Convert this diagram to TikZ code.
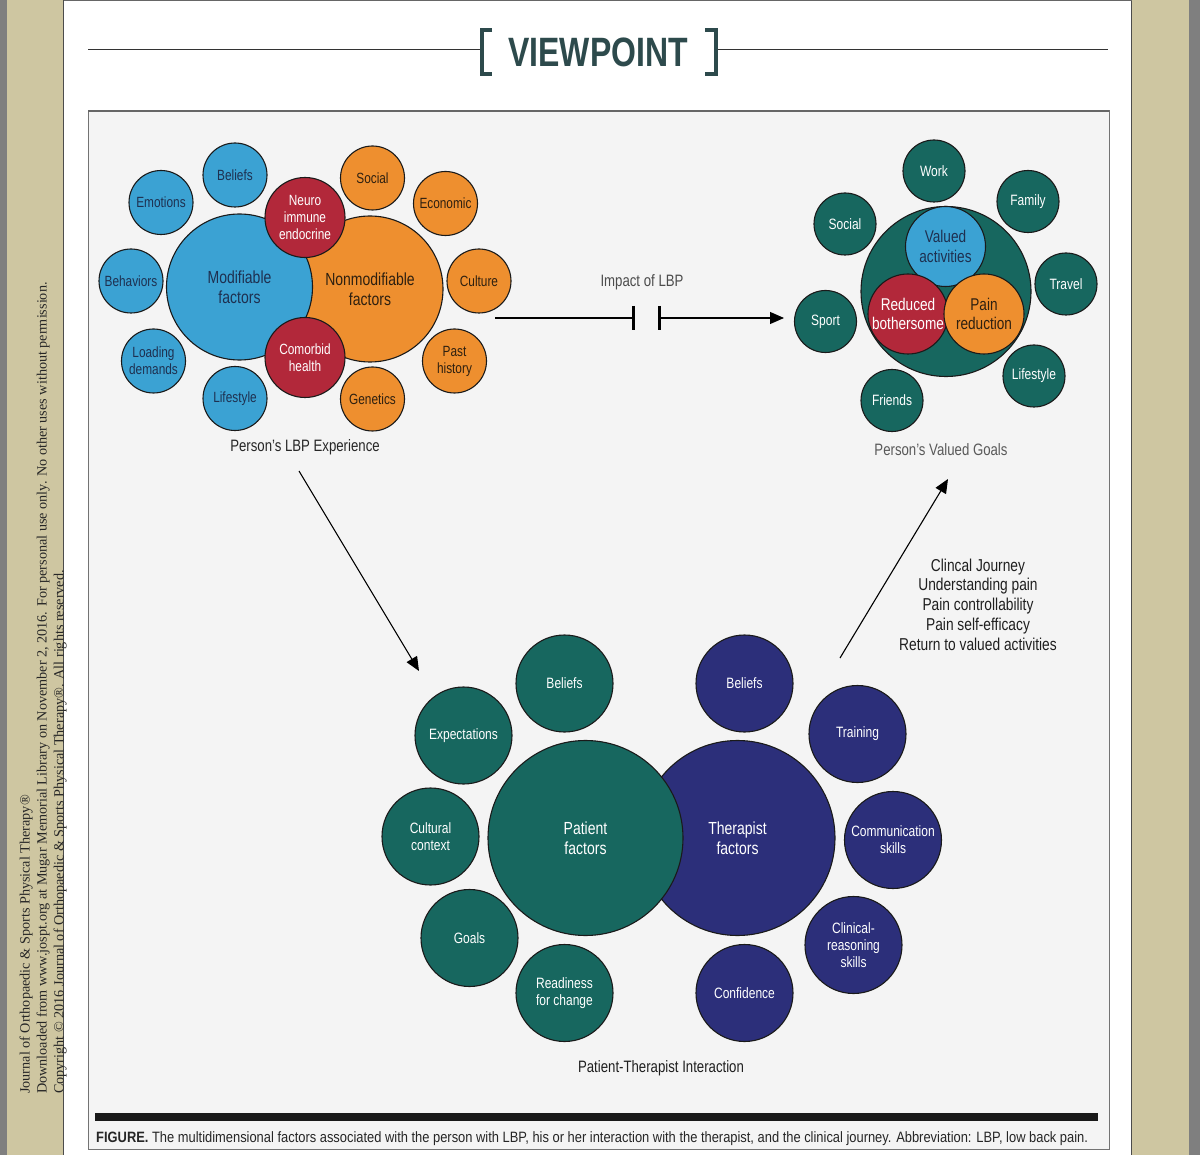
\documentclass[tikz,border=0pt]{standalone}
\usepackage{fontspec}
\setmainfont{Liberation Sans}
\newfontfamily\cf{Liberation Sans}[FakeStretch=0.8]
\newfontfamily\capf{Liberation Sans}[FakeStretch=0.86]
\newfontfamily\vpf{Liberation Sans}[FakeStretch=0.78]
\newfontfamily\sidef{Liberation Serif}
\usetikzlibrary{arrows.meta}
\definecolor{bgtan}{HTML}{CEC6A1}
\definecolor{sidegrey}{HTML}{7F7F7F}
\definecolor{panel}{HTML}{F4F4F4}
\definecolor{cblue}{HTML}{3BA2D3}
\definecolor{corange}{HTML}{EE8F2F}
\definecolor{cred}{HTML}{B2283A}
\definecolor{cteal}{HTML}{17675F}
\definecolor{cnavy}{HTML}{2C2F7A}
\definecolor{vpcol}{HTML}{2D4A4C}
\definecolor{darktxt}{HTML}{1E3050}
\definecolor{browntxt}{HTML}{2E2010}
\definecolor{outl}{HTML}{1A1A1A}
\tikzset{
  bub/.style={circle, draw=outl, line width=1.1pt, inner sep=0pt, align=center},
  smallbub/.style={minimum size=64pt, font=\cf\fontsize{14.8}{17}\selectfont},
  redbub/.style={minimum size=80pt, fill=cred, text=white, font=\cf\fontsize{14.8}{17}\selectfont},
  bigbub/.style={minimum size=146pt, font=\cf\fontsize{17.5}{20}\selectfont},
  tealsm/.style={minimum size=62pt, fill=cteal, text=white, font=\cf\fontsize{15}{17}\selectfont},
  midbub/.style={minimum size=80pt, font=\cf\fontsize{17}{19.5}\selectfont},
  botsm/.style={minimum size=97pt, font=\cf\fontsize{15}{17}\selectfont},
  botbig/.style={minimum size=195pt, font=\cf\fontsize{17.5}{20}\selectfont},
  bluef/.style={fill=cblue, text=darktxt},
  orangef/.style={fill=corange, text=browntxt},
  tealf/.style={fill=cteal, text=white},
  navyf/.style={fill=cnavy, text=white},
  lbl/.style={font=\cf\fontsize{16.5}{19.7}\selectfont, align=center, inner sep=0pt},
  arr/.style={line width=1.1pt, -{Triangle[length=14pt,width=12pt]}},
  barline/.style={line width=3pt},
}
\begin{document}
\begin{tikzpicture}[x=1pt,y=-1pt]
\useasboundingbox (0,0) rectangle (1200,1155);
% page background
\fill[sidegrey] (0,0) rectangle (1200,1155);
\fill[bgtan] (7,0) rectangle (1189,1155);
\fill[white] (63.5,0) rectangle (1131.5,1155);
\draw[line width=1pt, black!70] (63.5,0) -- (63.5,1155);
\draw[line width=1pt, black!70] (1131.5,0) -- (1131.5,1155);
\draw[line width=1.2pt, black!60] (63.5,0.6) -- (1131.5,0.6);
% side text
\node[rotate=90, anchor=north west, inner sep=0pt, align=left, text=black!85,
  font=\sidef\fontsize{14.2}{17}\selectfont] (side) at (19.5,1094)
 {Journal of Orthopaedic \& Sports Physical Therapy\textregistered\\
  Downloaded from www.jospt.org at Mugar Memorial Library on November 2, 2016. For personal use only. No other uses without permission.\\
  Copyright \textcopyright\ 2016 Journal of Orthopaedic \& Sports Physical Therapy\textregistered. All rights reserved.};
% header
\node[font=\vpf\bfseries\fontsize{41}{41}\selectfont, text=vpcol, inner sep=0pt] (vp) at (598,52.5) {VIEWPOINT};
\draw[line width=1.5pt, black!80] (88,49.5) -- (480,49.5);
\draw[line width=1.5pt, black!80] (716,49.5) -- (1108,49.5);
\draw[vpcol, line width=4pt] (492,30) -- (481.5,30) -- (481.5,74) -- (492,74);
\draw[vpcol, line width=4pt] (705,30) -- (715.5,30) -- (715.5,74) -- (705,74);
% panel
\fill[panel] (88,111) rectangle (1109,1149);
\draw[line width=1pt, black!55] (88,111) rectangle (1109,1149);
\draw[line width=2pt, black!60] (88,111) -- (1109,111);
\fill[black!90] (95,1113) rectangle (1098,1121);
\node[anchor=base west, inner sep=0pt, text=black!85, font=\capf\fontsize{15}{17}\selectfont] (cap) at (96,1142)
 {\bfseries FIGURE.\mdseries{} The multidimensional factors associated with the person with LBP, his or her interaction with the therapist, and the clinical journey. Abbreviation: LBP, low back pain.};

% ---------- left cluster
\node[bub, bigbub, orangef] (nonmod) at (370,289) {Nonmodifiable\\factors};
\node[bub, bigbub, bluef] (mod) at (239.5,287) {Modifiable\\factors};
\node[bub, redbub] (neuro) at (305,217.5) {Neuro\\immune\\endocrine};
\node[bub, redbub] (comorb) at (305,357.5) {Comorbid\\health};
\node[bub, smallbub, bluef] (lbel) at (235,175) {Beliefs};
\node[bub, smallbub, bluef] (lemo) at (161,202.5) {Emotions};
\node[bub, smallbub, bluef] (lbeh) at (131,281) {Behaviors};
\node[bub, smallbub, bluef] (lload) at (153.5,361) {Loading\\demands};
\node[bub, smallbub, bluef] (llife) at (235,398.5) {Lifestyle};
\node[bub, smallbub, orangef] (lsoc) at (372.5,178) {Social};
\node[bub, smallbub, orangef] (leco) at (445.5,203.5) {Economic};
\node[bub, smallbub, orangef] (lcul) at (479,281) {Culture};
\node[bub, smallbub, orangef] (lpast) at (454.5,361) {Past\\history};
\node[bub, smallbub, orangef] (lgen) at (372.5,399) {Genetics};
\node[lbl, text=black!85] (lblL) at (305,447) {Person’s LBP Experience};

% ---------- right cluster
\node[bub, minimum size=170pt, fill=cteal] (goals) at (946,291.5) {};
\node[bub, midbub, bluef] (valued) at (945.5,246.5) {Valued\\activities};
\node[bub, midbub, fill=cred, text=white] (reduced) at (908,314) {};
\node[bub, midbub, orangef] (painred) at (984,314) {Pain\\reduction};
\node[midbub, text=white, align=center, inner sep=0pt] (reducedtxt) at (908,314) {Reduced\\bothersome};
\node[bub, tealsm] (rwork) at (934,171) {Work};
\node[bub, tealsm] (rfam) at (1028,201.5) {Family};
\node[bub, tealsm] (rsoc) at (845,224) {Social};
\node[bub, tealsm] (rtrav) at (1066,284) {Travel};
\node[bub, tealsm] (rsport) at (825.5,321.5) {Sport};
\node[bub, tealsm] (rlife) at (1034,376) {Lifestyle};
\node[bub, tealsm] (rfri) at (892,400.5) {Friends};
\node[lbl, text=black!65] (lblR) at (941,450) {Person’s Valued Goals};

% impact arrow
\node[lbl, text=black!70] (impact) at (642,282) {Impact of LBP};
\coordinate (ims) at (495,318);
\coordinate (imb1) at (633,318);
\coordinate (imb2) at (659,318);
\coordinate (ime) at (784,318);
\draw[line width=1.1pt] (ims) -- (imb1);
\draw[barline] (imb1) ++(0,-12) -- ++(0,24);
\draw[barline] (imb2) ++(0,-12) -- ++(0,24);
\draw[arr] (imb2) -- (ime);

% diagonal arrows
\coordinate (a1s) at (299,471);
\coordinate (a1e) at (419,671);
\coordinate (a2s) at (840,658);
\coordinate (a2e) at (948,479);
\draw[arr] (a1s) -- (a1e);
\draw[arr] (a2s) -- (a2e);
\node[lbl, font=\cf\fontsize{17.2}{19.7}\selectfont, text=black!88] (journey) at (978,604.5) {Clincal Journey\\Understanding pain\\Pain controllability\\Pain self-efficacy\\Return to valued activities};

% ---------- bottom cluster
\node[bub, botbig, navyf] (ther) at (737.5,838) {};
\node[bub, botbig, tealf] (pat) at (585.5,838) {Patient\\factors};
\node[botbig, text=white, align=center, inner sep=0pt] (thertxt) at (737.5,838) {Therapist\\factors};
\node[bub, botsm, tealf] (pbel) at (564.5,683.5) {Beliefs};
\node[bub, botsm, tealf] (pexp) at (463.5,735.5) {Expectations};
\node[bub, botsm, tealf] (pcul) at (430.5,836.5) {Cultural\\context};
\node[bub, botsm, tealf] (pgoal) at (469.5,938) {Goals};
\node[bub, botsm, tealf] (pread) at (564.5,993) {Readiness\\for change};
\node[bub, botsm, navyf] (tbel) at (744.5,683.5) {Beliefs};
\node[bub, botsm, navyf] (ttrain) at (857.5,734) {Training};
\node[bub, botsm, navyf] (tcomm) at (893,840) {Communication\\skills};
\node[bub, botsm, navyf] (tclin) at (853.5,945) {Clinical-\\reasoning\\skills};
\node[bub, botsm, navyf] (tconf) at (744.5,993) {Confidence};
\node[lbl, text=black!88] (lblB) at (661,1068) {Patient-Therapist Interaction};
\end{tikzpicture}
\end{document}
